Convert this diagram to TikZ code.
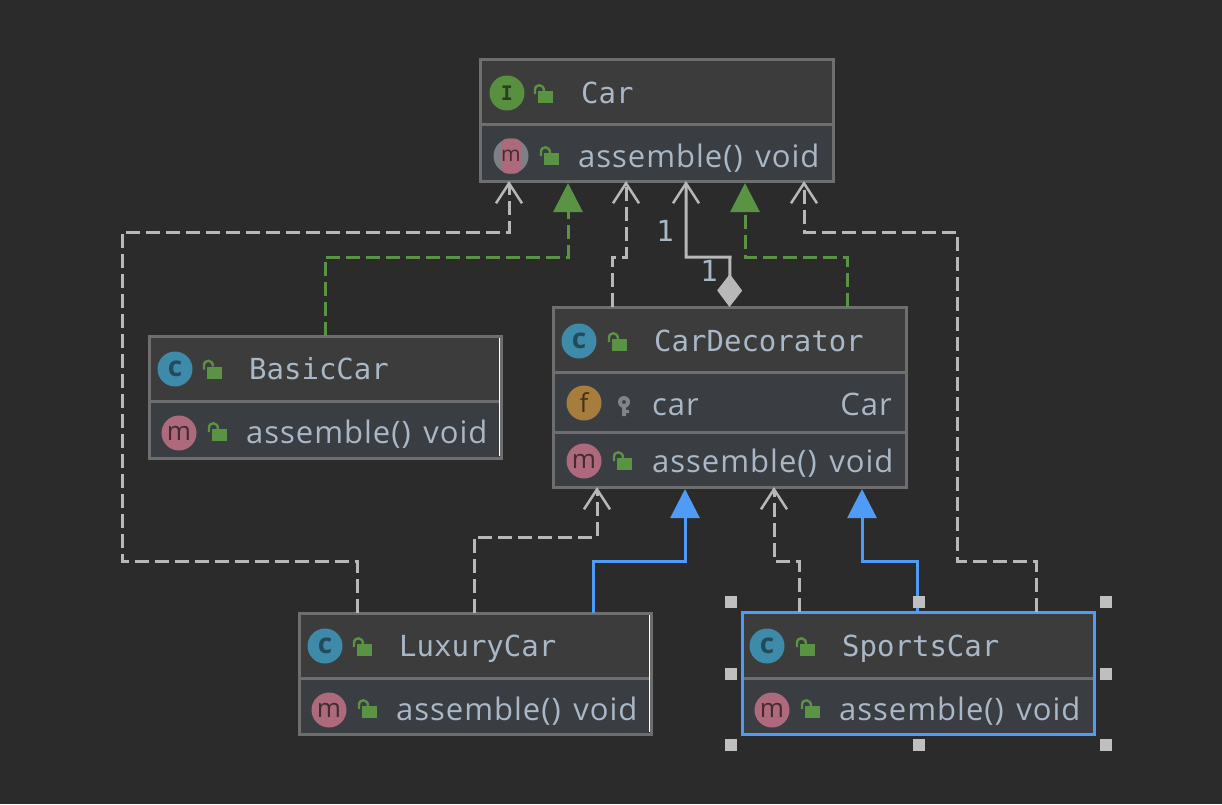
\documentclass[tikz,border=0pt]{standalone}
\usepackage{fontspec}
\usetikzlibrary{arrows.meta}
\newfontfamily\titlefont{DejaVu Sans Mono}
\newfontfamily\memberfont[LetterSpace=3.2,WordSpace=1.4]{Open Sans}
\newfontfamily\iconfont{Open Sans}
\definecolor{canvas}{HTML}{2B2B2B}
\definecolor{headfill}{HTML}{3C3C3C}
\definecolor{memberfill}{HTML}{3A3D41}
\definecolor{frame}{HTML}{6E6E6E}
\definecolor{label}{HTML}{A9B7C6}
\definecolor{lockgreen}{HTML}{5A9343}
\definecolor{linegray}{HTML}{B8B8B8}
\definecolor{selectblue}{HTML}{4F9BF5}
\definecolor{iconI}{HTML}{59903F}
\definecolor{iconc}{HTML}{3E8BA9}
\definecolor{iconf}{HTML}{A67D3D}
\definecolor{iconm}{HTML}{AD6A7C}
\tikzset{
  classbox/.style = {draw = frame, line width = 3pt, fill = memberfill, anchor = north west, inner sep = 0pt, outer sep = 0pt},
  headbox/.style = {classbox, fill = headfill},
  rowbox/.style = {classbox},
  titletext/.style = {anchor = base west, inner sep = 0pt, text = label, font = \titlefont\fontsize{29}{32}\selectfont},
  membertext/.style = {anchor = base west, inner sep = 0pt, text = label, font = \memberfont\fontsize{31}{34}\selectfont},
  multtext/.style = {inner sep = 0pt, text = label, font = \titlefont\fontsize{29}{32}\selectfont},
  icon/.style = {circle, minimum size = 35pt, inner sep = 0pt},
  iconclass/.style = {icon, fill = iconc, text = iconc!55!black, font = \iconfont\bfseries\fontsize{28}{28}\selectfont},
  iconmethod/.style = {icon, fill = iconm, text = iconm!40!black, font = \iconfont\fontsize{26}{26}\selectfont},
  handle/.style = {fill = black!25, minimum size = 12pt, inner sep = 0pt},
  dep/.style = {draw = linegray, line width = 3pt, dash pattern = on 14pt off 6pt, -{Straight Barb[length = 20pt, width = 26pt, line width = 2.5pt]}},
  impl/.style = {draw = lockgreen, line width = 3pt, dash pattern = on 14pt off 6pt, shorten > = 2pt, -{Triangle[length = 29pt, width = 29pt]}},
  extend/.style = {draw = selectblue, line width = 3pt, shorten > = 2pt, -{Triangle[length = 29pt, width = 29pt]}},
  owner/.style = {draw = linegray, line width = 3pt, {Diamond[length = 33pt, width = 25pt]}-{Straight Barb[length = 20pt, width = 26pt, line width = 2.5pt]}}
}
% name, left, top, width, head height, height
\newcommand{\classframe}[6]{
\node[classbox, minimum width = #4, minimum height = #6] (#1) at (#2,#3) {};
\node[headbox, minimum width = #4, minimum height = #5] (#1head) at (#1.north west) {};
}
% x and y of the lower left corner of the body
\newcommand{\lockat}[2]{
\fill[lockgreen] (#1,#2) rectangle ++(15,-12);
\draw[lockgreen, line width = 2.4pt] (#1-3,#2-9) -- (#1-3,#2-13) .. controls (#1-3,#2-19.5) and (#1+6,#2-19.5) .. (#1+6,#2-12);
}
\begin{document}
\begin{tikzpicture}[x = 1pt, y = -1pt]
\fill[canvas] (0,0) rectangle (1222,804);
\useasboundingbox (0,0) rectangle (1222,804);

% dependencies and arrows first
\classframe{car}{480}{59}{353}{65}{122}
\classframe{basic}{149}{336}{352}{65}{122}
\classframe{decorator}{553}{307}{353}{65}{180}
\classframe{luxury}{299}{613}{352}{65}{121}
\classframe{sports}{742}{612}{352}{66}{122}
\node[rowbox, minimum width = 353, minimum height = 60] (decoratorfield) at (decoratorhead.south west) {};
\draw[selectblue, line width = 3pt] (sports.north west) rectangle (sports.south east);
\draw[white, line width = 1pt] ([xshift = -2, yshift = -2]basic.north east) -- ([xshift = -2, yshift = 2]basic.south east);
\draw[white, line width = 1pt] ([xshift = -2, yshift = -2]luxury.north east) -- ([xshift = -2, yshift = 2]luxury.south east);

\draw[impl] ([xshift = 176]basic.north west) -- (325,257) -| ([xshift = 88]car.south west);
\draw[dep] ([xshift = 58]luxury.north west) -- (357,561) -- (122,561) -- (122,232) -| ([xshift = 29]car.south west);
\draw[dep] ([xshift = 59]decorator.north west) -- (612,257) -| ([xshift = 146]car.south west);
\draw[owner] (decorator.north) -- (730,257) -| ([xshift = 206]car.south west);
\draw[impl] ([xshift = 294]decorator.north west) -- (847,257) -| ([xshift = 265]car.south west);
\draw[dep] ([xshift = 294]sports.north west) -- (1036,561) -- (957,561) -- (957,232) -| ([xshift = 324]car.south west);
\draw[dep] ([xshift = 175]luxury.north west) -- (474,537) -| ([xshift = 44]decorator.south west);
\draw[extend] ([xshift = 294]luxury.north west) -- (593,561) -| ([xshift = 132]decorator.south west);
\draw[dep] ([xshift = 57]sports.north west) -- (799,561) -| ([xshift = 221]decorator.south west);
\draw[extend] ([xshift = 175]sports.north west) -- (917,561) -| ([xshift = 309]decorator.south west);
\node[multtext] (carmult) at (665,231) {1};
\node[multtext] (ownermult) at (709,271) {1};

% Car
\node[icon, fill = iconI, text = iconI!45!black] (carI) at (507,93) {\titlefont\fontsize{20}{20}\selectfont\bfseries I};
\lockat{538}{103}
\node[titletext] (cartitle) at (581,103) {Car};
\node[icon, fill = frame!75!label] (carmback) at (511,156) {};
\node[fill = iconm, rounded corners = 6pt, minimum width = 19pt, minimum height = 35pt, inner sep = 0pt, text = iconm!40!black, font = \iconfont\fontsize{21}{21}\selectfont] (carm) at (511,156) {m};
\lockat{544}{165}
\node[membertext] (carassemble) at (578,167) {assemble() void};

% BasicCar
\node[iconclass] (basicc) at (175,369) {c};
\lockat{207}{378.5}
\node[titletext] (basictitle) at (249,379) {BasicCar};
\node[iconmethod] (basicm) at (179,433) {m};
\lockat{212}{441}
\node[membertext] (basicassemble) at (246,443) {assemble() void};

% CarDecorator
\node[iconclass] (decoratorc) at (579,341) {c};
\lockat{612}{351}
\node[titletext] (decoratortitle) at (654,351) {CarDecorator};
\node[icon, fill = iconf, text = iconf!40!black, font = \iconfont\fontsize{26}{26}\selectfont] (decoratorf) at (584,403) {f};
\fill[frame!70!label, even odd rule] (624,402) circle [radius = 6] (624,402) circle [radius = 2];
\fill[frame!70!label] (622,406) rectangle (626,416) (626,410) rectangle (629,413);
\node[membertext] (decoratorcar) at (652,415) {car};
\node[membertext, anchor = base east] (decoratortype) at (892,415) {Car};
\node[iconmethod] (decoratorm) at (584,461) {m};
\lockat{617}{470}
\node[membertext] (decoratorassemble) at (652,472) {assemble() void};

% LuxuryCar
\node[iconclass] (luxuryc) at (325,646) {c};
\lockat{357}{656}
\node[titletext] (luxurytitle) at (399,656) {LuxuryCar};
\node[iconmethod] (luxurym) at (329,710) {m};
\lockat{362}{718}
\node[membertext] (luxuryassemble) at (396,720) {assemble() void};

% SportsCar
\node[iconclass] (sportsc) at (767,646) {c};
\lockat{800}{656}
\node[titletext] (sportstitle) at (842,656) {SportsCar};
\node[iconmethod] (sportsm) at (772,710) {m};
\lockat{805}{718}
\node[membertext] (sportsassemble) at (839,720) {assemble() void};

\foreach \hx/\hy [count = \hn] in {731/602,919/602,1106/602,731/674,1106/674,731/745,919/745,1106/745}
  \node[handle] (handle\hn) at (\hx,\hy) {};
\end{tikzpicture}
\end{document}
